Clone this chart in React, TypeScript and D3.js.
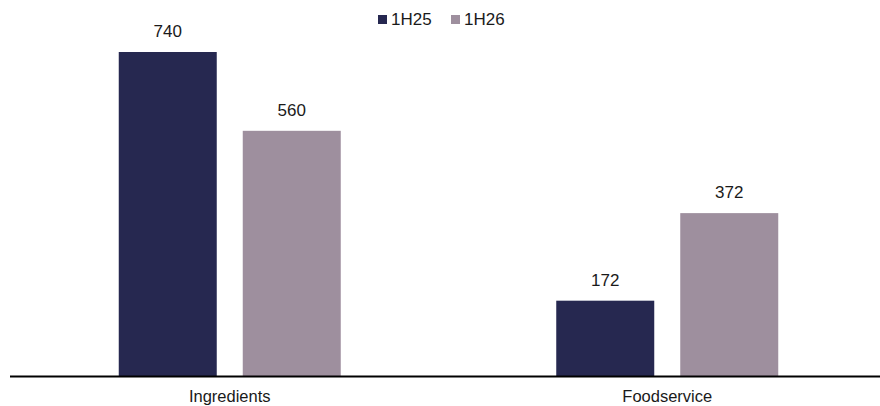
import React from "react";
import * as d3 from "d3";

const categories = ["Ingredients", "Foodservice"];
const seriesNames = ["1H25", "1H26"];
const values1H25 = [740, 172];
const values1H26 = [560, 372];
const colors = ["#262850", "#9E8F9E"];

const W = 880;
const H = 406;

export default function App() {
  const x = d3.scaleBand<string>().domain(categories).range([11, 886]).padding(0);
  const inner = d3
    .scaleBand<string>()
    .domain(seriesNames)
    .range([-111, 111])
    .paddingInner(0.2097);
  const y = d3.scaleLinear().domain([0, 740]).range([376, 52]);
  const series = [values1H25, values1H26];
  const font = "'Liberation Sans', Arial, sans-serif";

  return (
    <svg width={W} height={H} style={{ position: "absolute", left: 0, top: 0 }}>
      <rect width={W} height={H} fill="#fff" />
      {categories.map((c, i) => {
        const cx = (x(c) as number) + x.bandwidth() / 2;
        return (
          <g key={c}>
            {seriesNames.map((s, j) => {
              const v = series[j][i];
              const bx = cx + (inner(s) as number);
              return (
                <g key={s}>
                  <rect
                    x={bx}
                    y={y(v)}
                    width={inner.bandwidth()}
                    height={y(0) - y(v)}
                    fill={colors[j]}
                  />
                  <text
                    x={bx + inner.bandwidth() / 2}
                    y={y(v) - 15}
                    textAnchor="middle"
                    fontFamily={font}
                    fontSize={17}
                    fill="#1a1a1a"
                  >
                    {v}
                  </text>
                </g>
              );
            })}
            <text
              x={cx}
              y={401.5}
              textAnchor="middle"
              fontFamily={font}
              fontSize={16.5}
              fill="#1a1a1a"
            >
              {c}
            </text>
          </g>
        );
      })}
      <line x1={10} x2={880} y1={y(0) + 0.5} y2={y(0) + 0.5} stroke="#000" strokeWidth={2} />
      {seriesNames.map((s, j) => {
        const lx = 378 + j * 73;
        return (
          <g key={s}>
            <rect x={lx} y={15} width={9} height={9} fill={colors[j]} />
            <text x={lx + 13} y={25} fontFamily={font} fontSize={17} fill="#1a1a1a">
              {s}
            </text>
          </g>
        );
      })}
    </svg>
  );
}
